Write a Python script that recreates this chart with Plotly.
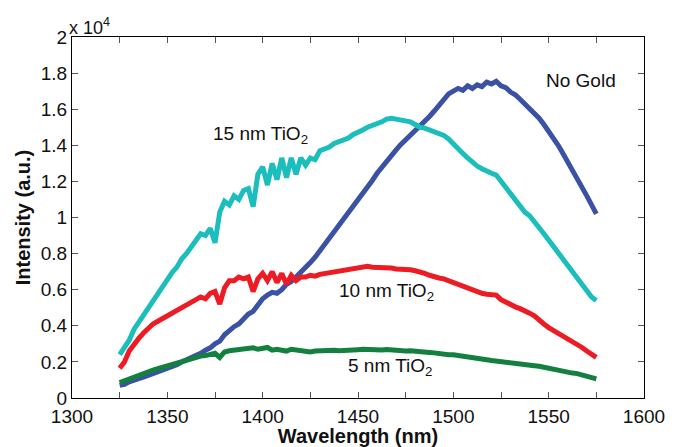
import plotly.graph_objects as go

# Emission spectra (counts) vs. wavelength (nm), sampled every 2.5 nm
wavelength = [
    1325, 1327.5, 1330, 1332.5, 1335, 1337.5, 1340, 1342.5, 1345, 1347.5,
    1350, 1352.5, 1355, 1357.5, 1360, 1362.5, 1365, 1367.5, 1370, 1372.5,
    1375, 1377.5, 1380, 1382.5, 1385, 1387.5, 1390, 1392.5, 1395, 1397.5,
    1400, 1402.5, 1405, 1407.5, 1410, 1412.5, 1415, 1417.5, 1420, 1422.5,
    1425, 1427.5, 1430, 1432.5, 1435, 1437.5, 1440, 1442.5, 1445, 1447.5,
    1450, 1452.5, 1455, 1457.5, 1460, 1462.5, 1465, 1467.5, 1470, 1472.5,
    1475, 1477.5, 1480, 1482.5, 1485, 1487.5, 1490, 1492.5, 1495, 1497.5,
    1500, 1502.5, 1505, 1507.5, 1510, 1512.5, 1515, 1517.5, 1520, 1522.5,
    1525, 1527.5, 1530, 1532.5, 1535, 1537.5, 1540, 1542.5, 1545, 1547.5,
    1550, 1552.5, 1555, 1557.5, 1560, 1562.5, 1565, 1567.5, 1570, 1572.5,
    1575,
]

no_gold = [
    700, 760, 900, 1020, 1080, 1150, 1250, 1330, 1400, 1520,
    1640, 1720, 1850, 1990, 2100, 2220, 2380, 2480, 2650, 2780,
    3000, 3150, 3500, 3750, 3950, 4100, 4400, 4650, 4800, 5200,
    5500, 5700, 5850, 5800, 6000, 6300, 6450, 6700, 6950, 7200,
    7500, 7800, 8150, 8500, 8800, 9150, 9500, 9850, 10200, 10550,
    10900, 11300, 11700, 12050, 12450, 12800, 13100, 13400, 13750, 14050,
    14300, 14550, 14800, 15050, 15300, 15600, 15900, 16250, 16600, 16850,
    17000, 17150, 17050, 17300, 17150, 17350, 17250, 17500, 17400, 17550,
    17300, 17200, 16950, 16800, 16550, 16300, 16050, 15800, 15500, 15150,
    14800, 14400, 14000, 13550, 13100, 12600, 12150, 11700, 11200, 10700,
    10200,
]

tio2_15nm = [
    2400, 2750, 3200, 3800, 4200, 4600, 4950, 5400, 5800, 6200,
    6600, 6950, 7250, 7700, 8000, 8400, 8750, 9100, 9000, 9400,
    8600, 10300, 10900, 10700, 11200, 11000, 11500, 11600, 10600, 12400,
    12800, 11800, 13000, 12100, 13300, 12200, 13300, 12400, 13300, 12900,
    13300, 13200, 13700, 13800, 13900, 14100, 14200, 14300, 14400, 14600,
    14700, 14850, 15000, 15100, 15150, 15300, 15450, 15500, 15450, 15400,
    15300, 15300, 15150, 15000, 14950, 14850, 14800, 14700, 14550, 14350,
    14050, 13800, 13550, 13300, 13050, 12850, 12700, 12550, 12450, 12350,
    12000, 11600, 11250, 10900, 10600, 10300, 10100, 9800, 9450, 9100,
    8750, 8400, 8050, 7750, 7400, 7000, 6600, 6250, 5900, 5600,
    5400,
]

tio2_10nm = [
    1650, 2000, 2600, 3000, 3300, 3600, 3900, 4100, 4250, 4400,
    4500, 4650, 4850, 5000, 5150, 5300, 5450, 5600, 5500, 5800,
    5900, 5200, 6100, 6500, 6500, 6700, 6600, 6700, 5900, 6600,
    6900, 6500, 7000, 6400, 6900, 6300, 6800, 6500, 6700, 6700,
    6800, 6750, 6850, 6900, 6900, 6950, 7000, 7050, 7150, 7200,
    7200, 7250, 7300, 7250, 7250, 7200, 7250, 7200, 7150, 7150,
    7150, 7100, 7050, 7000, 6900, 6800, 6700, 6650, 6600, 6500,
    6400, 6250, 6150, 6050, 5950, 5900, 5800, 5750, 5700, 5700,
    5450, 5300, 5150, 5050, 4950, 4850, 4700, 4550, 4300, 4100,
    3900, 3750, 3600, 3450, 3300, 3150, 3000, 2800, 2600, 2400,
    2250,
]

tio2_5nm = [
    850, 950, 1080, 1200, 1280, 1380, 1480, 1550, 1620, 1700,
    1800, 1880, 1950, 2050, 2120, 2200, 2250, 2320, 2350, 2420,
    2480, 2250, 2550, 2620, 2650, 2700, 2750, 2800, 2780, 2700,
    2750, 2800, 2650, 2700, 2650, 2600, 2700, 2650, 2600, 2620,
    2550, 2600, 2620, 2580, 2600, 2650, 2620, 2650, 2680, 2650,
    2680, 2700, 2680, 2720, 2680, 2660, 2680, 2650, 2650, 2620,
    2600, 2620, 2580, 2600, 2550, 2520, 2500, 2450, 2430, 2400,
    2400, 2350, 2300, 2250, 2230, 2180, 2150, 2120, 2080, 2040,
    2010, 1980, 1950, 1900, 1870, 1840, 1820, 1790, 1760, 1700,
    1640, 1580, 1530, 1460, 1410, 1380, 1350, 1290, 1220, 1150,
    1060,
]

series = [
    ("No Gold", no_gold, "#3b52a4"),
    ("15 nm TiO2", tio2_15nm, "#1bbdbd"),
    ("10 nm TiO2", tio2_10nm, "#ed1c24"),
    ("5 nm TiO2", tio2_5nm, "#138040"),
]

x_ticks = [1300, 1350, 1400, 1450, 1500, 1550, 1600]
y_ticks = [0, 2000, 4000, 6000, 8000, 10000, 12000, 14000, 16000, 18000, 20000]
y_tick_text = ["0", "0.2", "0.4", "0.6", "0.8", "1", "1.2", "1.4", "1.6", "1.8", "2"]

# Curve labels placed next to each spectrum (wavelength, counts)
curve_labels = [
    ("No Gold", 1567, 17600),
    ("15 nm TiO<sub>2</sub>", 1399, 14550),
    ("10 nm TiO<sub>2</sub>", 1465, 5880),
    ("5 nm TiO<sub>2</sub>", 1467, 1730),
]

FONT = "Liberation Sans, Arial, Helvetica, sans-serif"

fig = go.Figure()
for name, values, color in series:
    fig.add_trace(go.Scatter(
        x=wavelength, y=values, mode="lines", name=name,
        line=dict(color=color, width=5),
    ))

for text, lx, ly in curve_labels:
    fig.add_annotation(
        x=lx, y=ly, xref="x", yref="y", text=text, showarrow=False,
        font=dict(family=FONT, size=19, color="#111111"),
        xanchor="center", yanchor="middle",
    )

# Axis multiplier above the y axis
fig.add_annotation(
    x=-0.008, y=1.03, xref="paper", yref="paper",
    text="x 10<sup>4</sup>", showarrow=False,
    font=dict(family=FONT, size=18, color="#111111"),
    xanchor="left", yanchor="middle",
)

axis_common = dict(
    showline=True, linecolor="black", linewidth=1.2, mirror="ticks",
    ticks="inside", ticklen=6, tickcolor="#555555", tickwidth=1,
    showgrid=False, zeroline=False, automargin=False,
    tickfont=dict(family=FONT, size=19, color="#111111"),
)

fig.update_xaxes(
    range=[1300, 1600], tickvals=x_ticks, ticklabelstandoff=1,
    minor=dict(dtick=25, ticks="inside", ticklen=6, tickcolor="#555555"),
    title=dict(text="<b>Wavelength (nm)</b>", font=dict(family=FONT, size=20, color="#111111"), standoff=4),
    **axis_common,
)
fig.update_yaxes(
    range=[0, 20000], tickvals=y_ticks, ticktext=y_tick_text,
    title=dict(text="<b>Intensity (a.u.)</b>", font=dict(family=FONT, size=20, color="#111111"), standoff=4),
    **axis_common,
)

fig.update_layout(
    width=679, height=447,
    margin=dict(l=72, r=35, t=37, b=49),
    paper_bgcolor="white", plot_bgcolor="white",
    showlegend=False,
)

fig.write_html("out.html")
